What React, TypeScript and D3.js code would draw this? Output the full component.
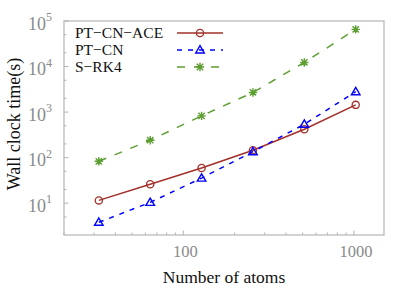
import React, { useRef, useEffect } from "react";
import * as d3 from "d3";

// wall clock time (s) vs number of atoms
const atoms = [32, 64, 128, 256, 512, 1024];
const ptcnAce = [11.5, 26, 59, 145, 420, 1440];
const ptcn = [3.8, 10.4, 35.5, 135, 540, 2800];
const srk4 = [83, 241, 826, 2700, 12300, 65600];

const seriesNames = ["PT\u2212CN\u2212ACE", "PT\u2212CN", "S\u2212RK4"];
const yTickExps = [1, 2, 3, 4, 5];
const xTickLabels = [100, 1000];

const W = 415;
const H = 291;

const App = () => {
  const ref = useRef<SVGSVGElement | null>(null);

  useEffect(() => {
    if (!ref.current) return;
    const svg = d3.select(ref.current);
    svg.selectAll("*").remove();

    const left = 64, right = 384, top = 21, bottom = 235;
    const font = "'Liberation Serif', 'Times New Roman', serif";

    const x = d3.scaleLog().domain([20, 1500]).range([left, right]);
    const y = d3.scaleLog().domain([2, 1e5]).range([bottom, top]);

    const series = [
      { name: seriesNames[0], values: ptcnAce, color: "#a3302a", dash: null, marker: "circle" },
      { name: seriesNames[1], values: ptcn, color: "#0000ff", dash: "5,6", marker: "triangle" },
      { name: seriesNames[2], values: srk4, color: "#5d9e32", dash: "8,9", marker: "star" },
    ];

    const axisColor = "#b4b4b4";
    const tickColor = "#8a8a8a";

    // minor / major ticks, pointing inward
    const xMinor: number[] = [];
    for (let d = 20; d < 100; d += 10) xMinor.push(d);
    for (let d = 200; d < 1000; d += 100) xMinor.push(d);
    const ticks = svg.append("g").attr("stroke", axisColor).attr("stroke-width", 1);
    xMinor.forEach((d) => {
      ticks.append("line").attr("x1", x(d)).attr("x2", x(d)).attr("y1", bottom).attr("y2", bottom - 2.5);
    });
    xTickLabels.forEach((d) => {
      ticks.append("line").attr("x1", x(d)).attr("x2", x(d)).attr("y1", bottom).attr("y2", bottom - 4.5);
    });
    const yMinor: number[] = [];
    for (let e = 0; e < 5; e++) {
      if (e > 0) yMinor.push(2 * Math.pow(10, e));
      yMinor.push(5 * Math.pow(10, e));
    }
    yMinor.forEach((d) => {
      ticks.append("line").attr("x1", left).attr("x2", left + 2.5).attr("y1", y(d)).attr("y2", y(d));
    });
    yTickExps.forEach((e) => {
      const v = Math.pow(10, e);
      ticks.append("line").attr("x1", left).attr("x2", left + 4.5).attr("y1", y(v)).attr("y2", y(v));
    });

    svg
      .append("rect")
      .attr("x", left)
      .attr("y", top)
      .attr("width", right - left)
      .attr("height", bottom - top)
      .attr("fill", "none")
      .attr("stroke", axisColor)
      .attr("stroke-width", 1.2);

    // tick labels
    const yl = svg.append("g").attr("font-family", font).attr("fill", tickColor);
    yTickExps.forEach((e) => {
      const t = yl
        .append("text")
        .attr("x", 52)
        .attr("y", y(Math.pow(10, e)) + 8.5)
        .attr("text-anchor", "end")
        .attr("font-size", 18);
      t.append("tspan").text("10");
      t.append("tspan").attr("font-size", 12).attr("dy", -8.5).text(String(e));
    });
    svg
      .append("g")
      .attr("font-family", font)
      .attr("fill", tickColor)
      .selectAll("text")
      .data(xTickLabels)
      .enter()
      .append("text")
      .attr("x", (d) => x(d) + 2)
      .attr("y", 257)
      .attr("text-anchor", "middle")
      .attr("font-size", 16.5)
      .text((d) => String(d));

    // axis titles
    svg
      .append("text")
      .attr("x", (left + right) / 2)
      .attr("y", 283)
      .attr("text-anchor", "middle")
      .attr("font-family", font)
      .attr("font-size", 17.5)
      .attr("fill", "#111")
      .text("Number of atoms");
    svg
      .append("text")
      .attr("transform", `translate(20,${124}) rotate(-90)`)
      .attr("text-anchor", "middle")
      .attr("font-family", font)
      .attr("font-size", 18)
      .attr("fill", "#111")
      .text("Wall clock time(s)");

    const drawMarker = (g: any, kind: string, cx: number, cy: number, color: string) => {
      if (kind === "circle") {
        g.append("circle")
          .attr("cx", cx)
          .attr("cy", cy)
          .attr("r", 3.6)
          .attr("fill", "none")
          .attr("stroke", color)
          .attr("stroke-width", 1.3);
      } else if (kind === "triangle") {
        const s = 4.3;
        g.append("path")
          .attr("d", `M${cx},${cy - s}L${cx + s},${cy + s * 0.7}L${cx - s},${cy + s * 0.7}Z`)
          .attr("fill", "none")
          .attr("stroke", color)
          .attr("stroke-width", 1.4);
      } else {
        const s = 4.2;
        const p = `M${cx - s},${cy}H${cx + s}M${cx},${cy - s}V${cy + s}` +
          `M${cx - s * 0.75},${cy - s * 0.75}L${cx + s * 0.75},${cy + s * 0.75}` +
          `M${cx - s * 0.75},${cy + s * 0.75}L${cx + s * 0.75},${cy - s * 0.75}`;
        g.append("path").attr("d", p).attr("stroke", color).attr("stroke-width", 1.4);
      }
    };

    const line = d3
      .line<number>()
      .x((_, i) => x(atoms[i]))
      .y((d) => y(d));

    series.forEach((s) => {
      const g = svg.append("g");
      g.append("path")
        .attr("d", line(s.values))
        .attr("fill", "none")
        .attr("stroke", s.color)
        .attr("stroke-width", 1.5)
        .attr("stroke-dasharray", s.dash);
      s.values.forEach((v, i) => drawMarker(g, s.marker, x(atoms[i]), y(v), s.color));
    });

    // legend
    const lg = svg.append("g");
    series.forEach((s, i) => {
      const ly = 33 + i * 17;
      lg.append("text")
        .attr("x", 75)
        .attr("y", ly + 5)
        .attr("font-family", font)
        .attr("font-size", 15.5)
        .attr("fill", "#111")
        .text(s.name);
      lg.append("line")
        .attr("x1", 177)
        .attr("x2", 223)
        .attr("y1", ly)
        .attr("y2", ly)
        .attr("stroke", s.color)
        .attr("stroke-width", 1.5)
        .attr("stroke-dasharray", s.dash);
      drawMarker(lg, s.marker, 200, ly, s.color);
    });
  }, []);

  return (
    <svg
      ref={ref}
      width={W}
      height={H}
      style={{ position: "absolute", left: 0, top: 0, background: "#fff" }}
    />
  );
};

export default App;
